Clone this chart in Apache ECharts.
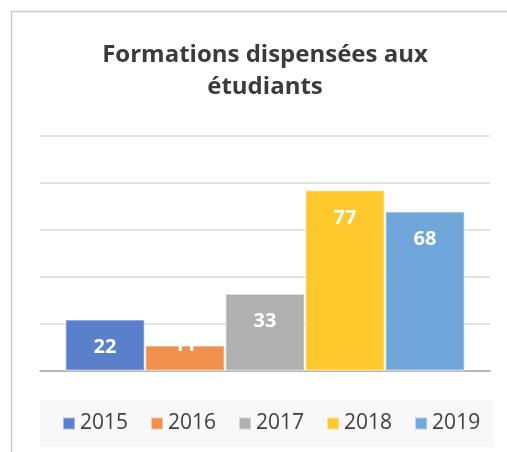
<!DOCTYPE html>
<html>
<head>
<meta charset="utf-8">
<script src="https://cdn.jsdelivr.net/npm/echarts@6/dist/echarts.min.js"></script>
<style>
    html, body { margin: 0; padding: 0; background: #fff; overflow: hidden; }
    #chart { width: 507px; height: 452px; }
</style>
</head>
<body>
<div id="chart"></div>
<script>
//données
const years = ['2015', '2016', '2017', '2018', '2019'];
const values = [22, 11, 33, 77, 68];
const colors = ['#5B80CB', '#F0904F', '#B0B0B0', '#FFC82C', '#70A7DA'];

const fontName = 'Open Sans';
let chart = echarts.init(document.getElementById('chart'));

//une série par année
let series = years.map(function (y, i) {
    let item = { value: values[i] };
    //petite barre : l'étiquette déborde au-dessus
    if (values[i] < 15) {
        item.label = { position: 'top', distance: -10 };
    }
    return {
        name: y,
        type: 'bar',
        data: [item],
        barGap: '0%',
        barCategoryGap: '11.1%',
        itemStyle: {
            color: colors[i],
            borderColor: 'rgba(255,255,255,0.45)',
            borderWidth: 1.5
        },
        label: {
            show: true,
            position: 'insideTop',
            distance: 18,
            color: '#fff',
            fontFamily: fontName,
            fontWeight: 'bold',
            fontSize: 20
        }
    };
});

let option = {
    animation: false,
    //cadre du graphique (coupé à droite et en bas)
    graphic: [{
        type: 'rect',
        left: 9,
        top: 9,
        shape: { width: 700, height: 700 },
        style: { fill: 'none', stroke: '#c9c9c9', lineWidth: 1.5 },
        silent: true
    }],
    title: {
        text: 'Formations dispensées aux\nétudiants',
        left: 260,
        textAlign: 'center',
        top: 34,
        textStyle: {
            fontFamily: fontName,
            fontWeight: 'bold',
            fontSize: 24,
            lineHeight: 32,
            color: '#3b3b3b'
        }
    },
    legend: {
        data: years,
        left: 40,
        top: 400,
        backgroundColor: '#f8f8f8',
        padding: [13, 14, 13, 22],
        itemWidth: 12,
        itemHeight: 12,
        itemGap: 22,
        icon: 'rect',
        textStyle: {
            fontFamily: fontName,
            fontSize: 21,
            color: '#404040'
        }
    },
    grid: {
        left: 40,
        right: 17,
        top: 136,
        bottom: 81
    },
    xAxis: {
        type: 'category',
        data: [''],
        axisLine: { lineStyle: { color: '#a6a6a6', width: 1.5 } },
        axisTick: { show: false },
        axisLabel: { show: false }
    },
    yAxis: {
        type: 'value',
        min: 0,
        max: 100,
        interval: 20,
        axisLabel: { show: false },
        axisLine: { show: false },
        axisTick: { show: false },
        splitLine: { lineStyle: { color: '#d9d9d9', width: 1.5 } }
    },
    series: series
};
chart.setOption(option);
</script>
</body>
</html>
